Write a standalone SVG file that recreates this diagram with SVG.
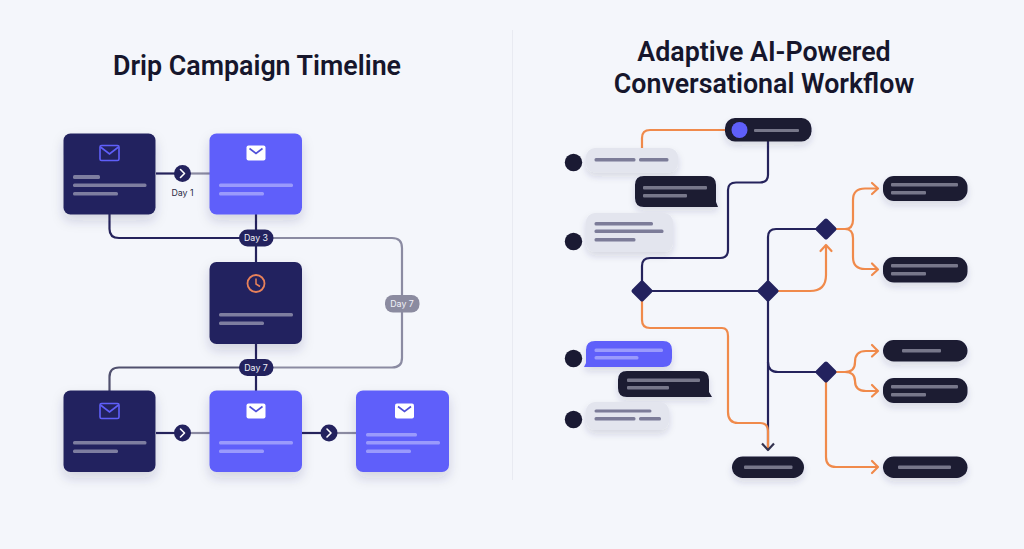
<svg xmlns="http://www.w3.org/2000/svg" width="1024" height="549" viewBox="0 0 1024 549">
<style>
.t{font-family:Roboto,"Liberation Sans",sans-serif;font-weight:600;font-size:26.800px;fill:#16162c;text-anchor:middle}
.l{font-family:Inter,Roboto,"Liberation Sans",sans-serif;font-size:8.800px;text-anchor:middle;fill:#f1f1f8}
.navy{fill:#23225e}.violet{fill:#5f5ffa}.ink{fill:#1a1a33}
.c{fill:none;stroke-width:2.2;stroke-linejoin:round;stroke-linecap:butt}
.n{stroke:#25235c}.o{stroke:#f08a4b}.g{stroke:#8b8ba2}
.b1{fill:#7e7ea0}.b2{fill:#9a9afc}.b3{fill:#77778a}.b4{fill:#7b7b98}
.ic{fill:none;stroke:#5f5ffa;stroke-width:1.6}
.ew{fill:#fff}.ev{fill:none;stroke:#5050d8;stroke-width:1.6}
.chev{fill:none;stroke:#fff;stroke-width:1.6;stroke-linecap:round;stroke-linejoin:round}
.ah{fill:none;stroke:#f08a4b;stroke-width:2.2;stroke-linecap:round;stroke-linejoin:round}
</style>
<defs>
<filter id="s" x="-30%" y="-30%" width="160%" height="170%"><feDropShadow dx="0" dy="6" stdDeviation="6" flood-color="#26265a" flood-opacity="0.17"/></filter>
<filter id="s2" x="-30%" y="-40%" width="160%" height="200%"><feDropShadow dx="0" dy="4" stdDeviation="3.500" flood-color="#26265a" flood-opacity="0.15"/></filter>
<g id="env"><rect x="-9.500" y="-7.500" width="19" height="15" rx="2" class="ew"/><path d="M-6.500 -4.500L0 0.500L6.500 -4.500" class="ev"/></g>
<g id="envd"><rect x="-9.500" y="-7.500" width="19" height="15" rx="1.500" class="ic"/><path d="M-9 -6L0 1L9 -6" class="ic"/></g>
</defs>
<rect width="1024" height="549" fill="#f4f6fb"/>
<rect x="512" y="30" width="1" height="450" fill="#e8eaf1"/>
<text class="t" x="257" y="75">Drip Campaign Timeline</text>
<text class="t" x="764" y="60.500">Adaptive AI-Powered</text>
<text class="t" x="764" y="92.500">Conversational Workflow</text>

<g id="connectors">
<path class="c n" d="M156 173.500H182"/>
<path class="c g" d="M182 173.500H210"/>
<path class="c n" d="M109.500 214V229Q109.500 238 119 238H245"/>
<path class="c n" d="M256 214V262"/>
<path class="c g" d="M268 238H392Q402 238 402 248V295"/>
<path class="c g" d="M402 312V358Q402 367.500 392 367.500H268"/>
<path class="c" stroke="#50506e" d="M245 367.500H119Q109.500 367.500 109.500 377V391"/>
<path class="c n" d="M256 344V391"/>
<path class="c n" d="M156 433H182"/><path class="c g" d="M182 433H210"/>
<path class="c n" d="M302 433H329"/><path class="c g" d="M329 433H357"/>

<path class="c o" d="M725 130H650Q642 130 642 138V150"/>
<path class="c n" d="M768 141V175Q768 182.500 760 182.500H736Q728 182.500 728 190V250Q728 258 720 258H650Q642 258 642 266V291"/>
<path class="c n" d="M642 291H768"/>
<path class="c n" d="M768 291V237Q768 229 776 229H826"/>
<path class="c n" d="M768 291V449"/>
<path class="c n" d="M768 362Q768 372 778 372H826"/>
<path class="c o" d="M642 300V320Q642 328 650 328H722Q728 328 728 336V412Q728 423 738 423H760Q768 423 768 431V449"/>
<path class="c" stroke="#33334f" d="M762 443.500L768 450L774 443.500" stroke-linecap="round" stroke-linejoin="round"/>
<path class="c o" d="M778 291H810Q826 291 826 275V246"/>
<path class="ah" d="M820.500 251L826 245L831.500 251"/>
<path class="c o" d="M836 229H845Q853 229 853 220V200Q853 188.500 865 188.500H877"/>
<path class="c o" d="M845 229Q853 229 853 238V257Q853 269 865 269H877"/>
<path class="ah" d="M872 183L878 188.500L872 194"/>
<path class="ah" d="M872 263.500L878 269.500L872 275"/>
<path class="c o" d="M836 372H845Q855 372 855 362Q855 351 866 351H877"/>
<path class="c o" d="M845 372Q855 372 855 381Q855 391 866 391H877"/>
<path class="ah" d="M872 345L878 351L872 356.500"/>
<path class="ah" d="M872 385L878 391L872 396.500"/>
<path class="c o" d="M826 380V457Q826 467 836 467H877"/>
<path class="ah" d="M872 461L878 467L872 473"/>
</g>

<g id="card-1" filter="url(#s)"><rect class="navy" x="63.500" y="133.500" width="92" height="81" rx="7"/><use href="#envd" x="109.500" y="153"/><rect class="b1" x="73" y="175" width="27" height="4" rx="1.500"/><rect class="b1" x="73" y="183.500" width="73.500" height="3.500" rx="1.500"/><rect class="b1" x="73" y="192" width="45" height="3.500" rx="1.500"/></g>
<g id="step-day1"><circle class="navy" cx="182.500" cy="173.500" r="8.500"/><path class="chev" d="M180.500 169.500L184.500 173.500L180.500 177.500"/><text class="l" x="182.500" y="195.500" style="fill:#2b2b45">Day 1</text></g>
<g id="card-2" filter="url(#s)"><rect class="violet" x="209.500" y="133.500" width="92.500" height="81" rx="7"/><use href="#env" x="256" y="153"/><rect class="b2" x="219" y="183.500" width="74" height="3.500" rx="1.500"/><rect class="b2" x="219" y="192" width="45" height="3.500" rx="1.500"/></g>
<g id="card-3" filter="url(#s)"><rect class="navy" x="209.500" y="262" width="92.500" height="82" rx="7"/><circle cx="256" cy="283.500" r="8.500" fill="none" stroke="#e8825a" stroke-width="1.800"/><path d="M256 278.500V284L260 286.500" fill="none" stroke="#e8825a" stroke-width="1.500"/><rect class="b1" x="219" y="313" width="74" height="3.500" rx="1.500"/><rect class="b1" x="219" y="321.500" width="45" height="3.500" rx="1.500"/></g>
<g id="pill-day3"><rect class="navy" x="239" y="229.500" width="34.500" height="17" rx="8.500"/><text class="l" x="256" y="241.200">Day 3</text></g>
<g id="pill-day7-side"><rect fill="#8b8ba0" x="385" y="295" width="34.500" height="17.500" rx="8"/><text class="l" x="402" y="307">Day 7</text></g>
<g id="pill-day7"><rect class="navy" x="239" y="359" width="34.500" height="17" rx="8.500"/><text class="l" x="256" y="370.700">Day 7</text></g>
<g id="card-4" filter="url(#s)"><rect class="navy" x="63.500" y="390.500" width="92" height="81.500" rx="7"/><use href="#envd" x="109.500" y="411"/><rect class="b1" x="73" y="441" width="73.500" height="3.500" rx="1.500"/><rect class="b1" x="73" y="449.500" width="45" height="3.500" rx="1.500"/></g>
<g id="step-a"><circle class="navy" cx="182.500" cy="433" r="8.500"/><path class="chev" d="M180.500 429L184.500 433L180.500 437"/></g>
<g id="card-5" filter="url(#s)"><rect class="violet" x="209.500" y="390.500" width="92.500" height="81.500" rx="7"/><use href="#env" x="256" y="411"/><rect class="b2" x="219" y="441" width="74" height="3.500" rx="1.500"/><rect class="b2" x="219" y="449.500" width="45" height="3.500" rx="1.500"/></g>
<g id="step-b"><circle class="navy" cx="329" cy="433" r="8.500"/><path class="chev" d="M327 429L331 433L327 437"/></g>
<g id="card-6" filter="url(#s)"><rect class="violet" x="356" y="390.500" width="93" height="81.500" rx="7"/><use href="#env" x="404.500" y="411"/><rect class="b2" x="366" y="433" width="51" height="3.500" rx="1.500"/><rect class="b2" x="366" y="441" width="74" height="3.500" rx="1.500"/><rect class="b2" x="366" y="449.500" width="45" height="3.500" rx="1.500"/></g>

<g id="top-node" filter="url(#s2)"><rect class="ink" x="725" y="118" width="86.500" height="23.500" rx="10"/><circle class="violet" cx="739.500" cy="130" r="8"/><rect class="b3" x="754" y="129" width="45" height="3" rx="1"/></g>

<g id="dot-1"><circle class="ink" cx="573.500" cy="162.500" r="8.700"/></g>
<g id="bubble-1" filter="url(#s2)"><rect fill="#e3e5ee" x="586" y="148" width="92" height="24.500" rx="9"/><rect class="b4" x="594.500" y="158" width="41" height="3.500" rx="1.500"/><rect class="b4" x="639" y="158" width="29.500" height="3.500" rx="1.500"/></g>
<g id="bubble-2" filter="url(#s2)"><path class="ink" d="M644 176H707Q716 176 716 185V202L718 207H644Q635 207 635 198V185Q635 176 644 176Z"/><rect class="b3" x="643" y="186" width="64" height="3.500" rx="1"/><rect class="b3" x="643" y="194" width="44" height="3.500" rx="1"/></g>
<g id="dot-2"><circle class="ink" cx="573.500" cy="241.500" r="8.700"/></g>
<g id="bubble-3" filter="url(#s2)"><rect fill="#e3e5ee" x="586" y="213" width="87" height="39" rx="9"/><rect class="b4" x="594.500" y="222" width="58.500" height="3.500" rx="1.500"/><rect class="b4" x="594.500" y="229.500" width="69" height="3.500" rx="1.500"/><rect class="b4" x="594.500" y="238" width="41" height="3.500" rx="1.500"/></g>

<g id="dot-3"><circle class="ink" cx="573.500" cy="358.500" r="8.700"/></g>
<g id="bubble-4" filter="url(#s2)"><path class="violet" d="M595 341H663Q672 341 672 350V358Q672 367 663 367H584L586 363V350Q586 341 595 341Z"/><rect class="b2" x="594.500" y="348.500" width="68.500" height="3.500" rx="1.500"/><rect class="b2" x="594.500" y="356" width="44" height="3.500" rx="1.500"/></g>
<g id="bubble-5" filter="url(#s2)"><path class="ink" d="M627 371H700Q709 371 709 380V392L712 397H627Q618 397 618 388V380Q618 371 627 371Z"/><rect class="b3" x="627" y="378.500" width="73" height="3.500" rx="1"/><rect class="b3" x="627" y="386" width="42" height="3.500" rx="1"/></g>
<g id="dot-4"><circle class="ink" cx="573.500" cy="419.500" r="8.700"/></g>
<g id="bubble-6" filter="url(#s2)"><rect fill="#e3e5ee" x="586" y="402" width="83" height="28" rx="9"/><rect class="b4" x="594.500" y="409.500" width="57" height="3" rx="1.500"/><rect class="b4" x="594.500" y="417" width="41" height="3.500" rx="1.500"/><rect class="b4" x="639" y="417" width="22" height="3.500" rx="1.500"/></g>

<g id="diamond-1"><rect class="navy" x="-8" y="-8" width="16" height="16" rx="2" transform="translate(642 291) rotate(45)"/></g>
<g id="diamond-2"><rect class="navy" x="-8" y="-8" width="16" height="16" rx="2" transform="translate(768 291) rotate(45)"/></g>
<g id="diamond-3"><rect class="navy" x="-8" y="-8" width="16" height="16" rx="2" transform="translate(826 229) rotate(45)"/></g>
<g id="diamond-4"><rect class="navy" x="-8" y="-8" width="16" height="16" rx="2" transform="translate(826 372) rotate(45)"/></g>

<g id="end-node" filter="url(#s2)"><rect class="ink" x="732" y="456.500" width="72" height="21.500" rx="10.700"/><rect class="b3" x="744" y="465.500" width="48.500" height="3.500" rx="1"/></g>
<g id="out-1" filter="url(#s2)"><rect class="ink" x="883" y="176" width="84.500" height="25" rx="11"/><rect class="b3" x="891" y="183" width="67" height="3.500" rx="1"/><rect class="b3" x="891" y="191" width="35" height="3.500" rx="1"/></g>
<g id="out-2" filter="url(#s2)"><rect class="ink" x="883" y="257" width="84.500" height="25.500" rx="11"/><rect class="b3" x="891" y="264" width="67" height="3.500" rx="1"/><rect class="b3" x="891" y="272" width="35" height="3.500" rx="1"/></g>
<g id="out-3" filter="url(#s2)"><rect class="ink" x="883" y="340" width="84.500" height="21.500" rx="10.700"/><rect class="b3" x="902" y="349" width="39" height="3.500" rx="1"/></g>
<g id="out-4" filter="url(#s2)"><rect class="ink" x="883" y="378" width="84.500" height="25" rx="11"/><rect class="b3" x="891" y="385" width="67" height="3.500" rx="1"/><rect class="b3" x="891" y="393" width="35" height="3.500" rx="1"/></g>
<g id="out-5" filter="url(#s2)"><rect class="ink" x="883" y="456.500" width="84.500" height="21.500" rx="10.700"/><rect class="b3" x="898" y="465.500" width="53" height="3.500" rx="1"/></g>
</svg>
